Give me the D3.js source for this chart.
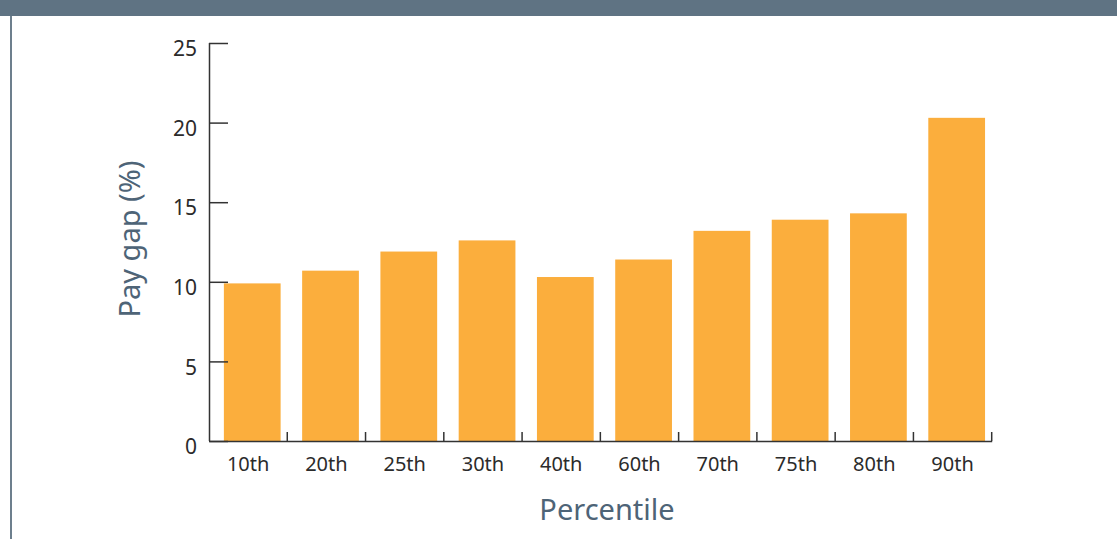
<!DOCTYPE html>
<html>
<head>
<meta charset="utf-8">
<script src="https://cdn.jsdelivr.net/npm/d3@7"></script>
<style>
body { margin: 0; background: #fff; }
svg { display: block; }
</style>
</head>
<body>
<div id="svg-container"></div>
<script>
// Data ------------------------------------------------------------------------------------------
const percentiles = ["10th", "20th", "25th", "30th", "40th", "60th", "70th", "75th", "80th", "90th"];
const payGap = [9.9, 10.7, 11.9, 12.6, 10.3, 11.4, 13.2, 13.9, 14.3, 20.3];
const yTicks = [0, 5, 10, 15, 20, 25];

// Dimensions ------------------------------------------------------------------------------------
const width = 1117, height = 539;
const margin = {top: 43, left: 209, right: 125, bottom: 98};

const svg = d3.select("#svg-container").append("svg")
.attr("width", width)
.attr("height", height);

// Frame
svg.append("rect")
.attr("x", 0).attr("y", 0)
.attr("width", width).attr("height", 16)
.attr("fill", "#5f7383");
svg.append("rect")
.attr("x", 10).attr("y", 16)
.attr("width", 2).attr("height", height - 16)
.attr("fill", "#6d7f8d");

// Scales ----------------------------------------------------------------------------------------
const x = d3.scaleBand()
.domain(percentiles)
.range([margin.left, width - margin.right - 0.3])
.padding(0);

const y = d3.scaleLinear()
.domain([0, 25])
.range([height - margin.bottom, margin.top]);

// Bars
const barOffset = x.bandwidth() * 0.19;
const barWidth = x.bandwidth() * 0.725;
svg.append("g")
.selectAll("rect")
.data(percentiles)
.join("rect")
.attr("x", d => x(d) + barOffset)
.attr("y", (d, i) => y(payGap[i]))
.attr("width", barWidth)
.attr("height", (d, i) => y(0) - y(payGap[i]))
.attr("fill", "#fbae3d");

// Axes ------------------------------------------------------------------------------------------
const font = "'Noto Sans', sans-serif";

const yAxis = svg.append("g")
.attr("transform", `translate(${margin.left},0)`)
.call(d3.axisRight(y).tickValues(yTicks).tickSize(19).tickPadding(0).tickFormat(d3.format("d")));
yAxis.select(".domain").attr("stroke", "#333").attr("stroke-width", 1.5).attr("d", `M0.5,${y(0)}V${y(25)}`);
yAxis.selectAll(".tick line").attr("stroke", "#333").attr("stroke-width", 1.5);
yAxis.selectAll(".tick text")
.attr("x", -12)
.attr("dy", "0.32em")
.attr("y", 6)
.attr("text-anchor", "end")
.attr("font-family", font)
.attr("font-size", 21)
.attr("fill", "#2b2b2b");

const xAxis = svg.append("g")
.attr("transform", `translate(0,${y(0)})`)
.call(d3.axisBottom(x).tickSize(0).tickPadding(16));
xAxis.select(".domain").attr("stroke", "#333").attr("stroke-width", 1.5);
xAxis.selectAll(".tick text")
.attr("font-family", font)
.attr("font-size", 20)
.attr("fill", "#2b2b2b");

// Category separators pointing up
svg.append("g")
.selectAll("line")
.data(percentiles.slice(1).concat(["end"]))
.join("line")
.attr("x1", d => d === "end" ? x.range()[1] : x(d))
.attr("x2", d => d === "end" ? x.range()[1] : x(d))
.attr("y1", y(0))
.attr("y2", y(0) - 9)
.attr("stroke", "#333")
.attr("stroke-width", 1.5);

// Axis titles
svg.append("text")
.attr("x", 607)
.attr("y", 520)
.attr("text-anchor", "middle")
.attr("font-family", font)
.attr("font-size", 29)
.attr("fill", "#4e6477")
.text("Percentile");

svg.append("text")
.attr("transform", `translate(140,${239}) rotate(-90)`)
.attr("text-anchor", "middle")
.attr("font-family", font)
.attr("font-size", 29)
.attr("fill", "#4e6477")
.text("Pay gap (%)");
</script>
</body>
</html>
